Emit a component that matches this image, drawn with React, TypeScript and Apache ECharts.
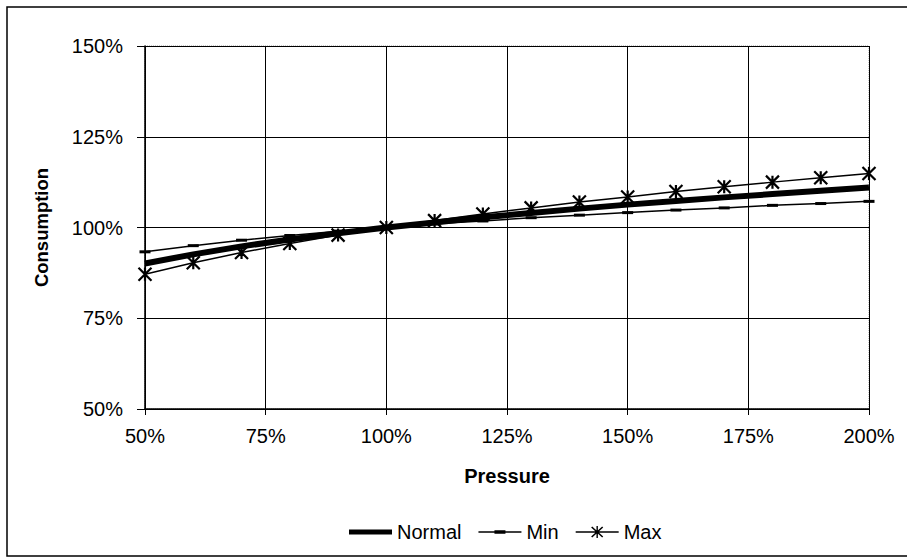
import React, { useEffect, useRef } from "react";
import * as echarts from "echarts";

const pressure = [50, 60, 70, 80, 90, 100, 110, 120, 130, 140, 150, 160, 170, 180, 190, 200];
const normalValues = [90.1, 92.6, 94.8, 96.7, 98.4, 100, 101.4, 102.8, 104.0, 105.2, 106.3, 107.3, 108.3, 109.2, 110.1, 111.0];
const minValues = [93.3, 95.0, 96.5, 97.8, 99.0, 100, 101.0, 101.8, 102.7, 103.4, 104.1, 104.8, 105.4, 106.1, 106.6, 107.2];
const maxValues = [87.1, 90.3, 93.1, 95.6, 97.9, 100, 101.9, 103.7, 105.4, 107.0, 108.4, 109.9, 111.2, 112.5, 113.7, 114.9];
const seriesNames = ["Normal", "Min", "Max"];

const FONT = "'Liberation Sans', Arial, sans-serif";

const ICON_NORMAL = "path://M0,4.5H43V9.5H0Z";
const ICON_MIN = "path://M0,6.3H43V7.7H0Z M16,5.3H27V8.7H16Z";
const ICON_MAX =
  "path://M0,6.3H43V7.7H0Z M16.54,1.41L27.54,11.41L26.46,12.59L15.46,2.59Z M27.54,2.59L16.54,12.59L15.46,11.41L26.46,1.41Z M20.8,1H22.2V13H20.8Z";

export default function App() {
  const ref = useRef<HTMLDivElement>(null);
  useEffect(() => {
    if (!ref.current) return;
    const chart = echarts.init(ref.current, null, { renderer: "svg" });
    const pairs = (vals: number[]) => pressure.map((p, i) => [p, vals[i]]);
    const legendIcon = { color: "#000", borderWidth: 0 };
    chart.setOption({
      animation: false,
      backgroundColor: "#fff",
      textStyle: { fontFamily: FONT, color: "#000" },
      graphic: [
        {
          type: "rect",
          shape: { x: 7, y: 7, width: 920, height: 549 },
          style: { fill: "none", stroke: "#000", lineWidth: 1.5 },
          silent: true,
        },
      ],
      grid: {
        left: 145,
        right: 38,
        top: 46,
        bottom: 149,
        show: true,
        borderColor: "#999",
        borderWidth: 1,
        borderType: "dotted",
        backgroundColor: "transparent",
      },
      legend: {
        data: [
          { name: seriesNames[0], icon: ICON_NORMAL, itemStyle: legendIcon },
          { name: seriesNames[1], icon: ICON_MIN, itemStyle: legendIcon },
          { name: seriesNames[2], icon: ICON_MAX, itemStyle: legendIcon },
        ],
        left: 344,
        top: 517,
        itemWidth: 43,
        itemHeight: 14,
        itemGap: 17,
        textStyle: { fontFamily: FONT, fontSize: 20, color: "#000" },
      },
      xAxis: {
        type: "value",
        min: 50,
        max: 200,
        interval: 25,
        name: "Pressure",
        nameLocation: "middle",
        nameGap: 57,
        nameTextStyle: { fontFamily: FONT, fontSize: 20, fontWeight: "bold", color: "#000" },
        axisLine: { show: true, lineStyle: { color: "#000", width: 1.5 } },
        axisTick: { show: true, length: 6, lineStyle: { color: "#000" } },
        axisLabel: { formatter: "{value}%", fontSize: 20, color: "#000", margin: 17, fontFamily: FONT },
        splitLine: { show: true, lineStyle: { color: "#000", width: 1 } },
      },
      yAxis: {
        type: "value",
        min: 50,
        max: 150,
        interval: 25,
        name: "Consumption",
        nameLocation: "middle",
        nameGap: 94,
        nameTextStyle: { fontFamily: FONT, fontSize: 18.5, fontWeight: "bold", color: "#000" },
        axisLine: { show: true, lineStyle: { color: "#000", width: 1.5 } },
        axisTick: { show: true, length: 8, lineStyle: { color: "#000" } },
        axisLabel: { formatter: "{value}%", fontSize: 20, color: "#000", margin: 22, fontFamily: FONT },
        splitLine: { show: true, lineStyle: { color: "#000", width: 1 } },
      },
      series: [
        {
          name: seriesNames[0],
          type: "line",
          data: pairs(normalValues),
          showSymbol: false,
          symbol: "none",
          lineStyle: { color: "#000", width: 6 },
          itemStyle: { color: "#000" },
          z: 3,
        },
        {
          name: seriesNames[1],
          type: "line",
          data: pairs(minValues),
          symbol: "rect",
          symbolSize: [11, 3],
          lineStyle: { color: "#000", width: 1.5 },
          itemStyle: { color: "#000" },
          z: 4,
        },
        {
          name: seriesNames[2],
          type: "line",
          data: pairs(maxValues),
          symbol: "path://M0,0L10,10M10,0L0,10M5,0L5,10",
          symbolSize: 13,
          lineStyle: { color: "#000", width: 1.5 },
          itemStyle: { color: "#000", borderColor: "#000", borderWidth: 2.2 },
          z: 5,
        },
      ],
    });
    return () => chart.dispose();
  }, []);
  return (
    <div
      ref={ref}
      style={{ position: "fixed", left: 0, top: 0, width: 907, height: 558 }}
    />
  );
}
